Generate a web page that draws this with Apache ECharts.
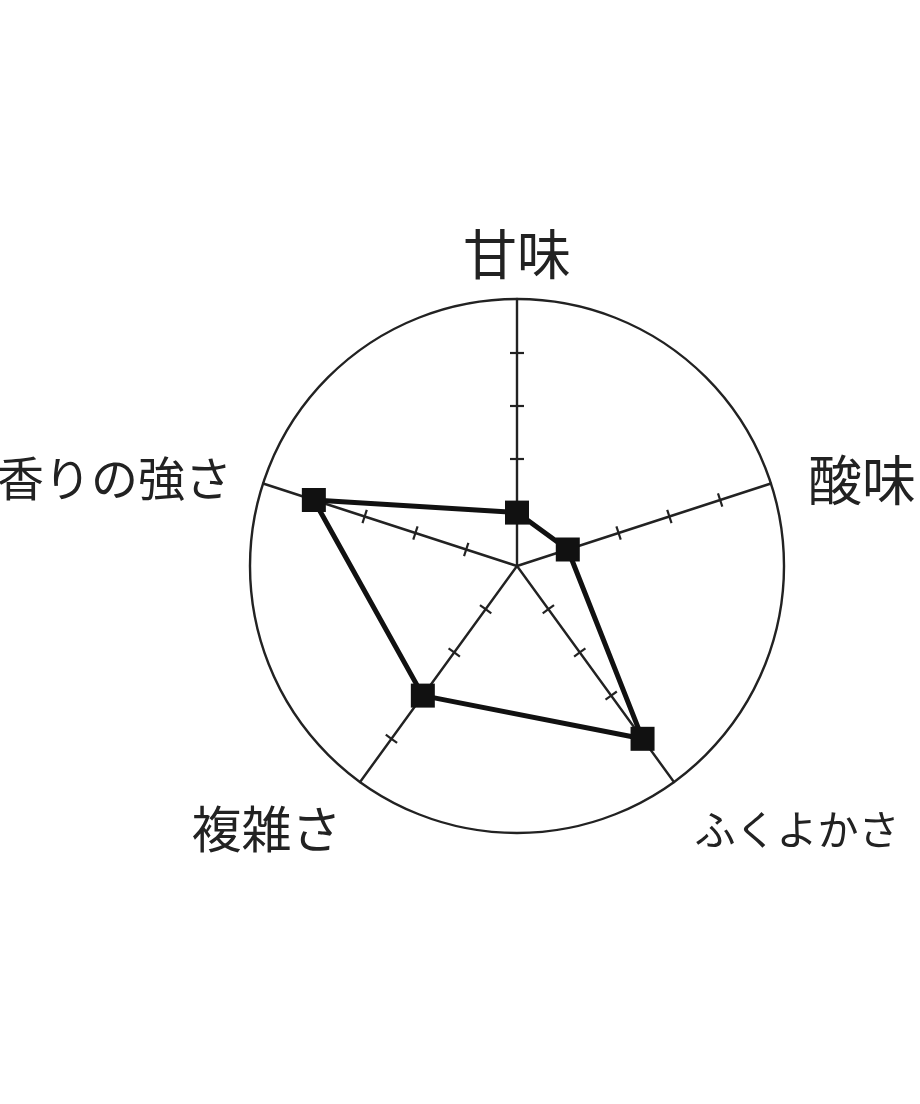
<!DOCTYPE html>
<html><head><meta charset="utf-8">
<script src="https://cdn.jsdelivr.net/npm/echarts@6/dist/echarts.min.js"></script>
<style>html,body{margin:0;padding:0;background:#fff}#c{width:920px;height:1104px}</style>
</head><body><div id="c"></div>
<script>
// indicators in drawing order (ECharts radar runs counterclockwise from top)
const indicatorNames = ['甘味', '香りの強さ', '複雑さ', 'ふくよかさ', '酸味'];
const values = [1, 4, 3, 4, 1];
const maxValue = 5;
const splits = 5;
const tickValues = [1, 2, 3, 4];

// label styles (size / offset per label)
const labelStyles = {
  a: { fontSize: 54, padding: [0, 0, 0, 0] },
  b: { fontSize: 47, padding: [0, 14, 0, 0] },
  c: { fontSize: 50, padding: [64, 8, 0, 0] },
  d: { fontSize: 41, padding: [66, 0, 0, 10] },
  e: { fontSize: 54, padding: [6, 0, 0, 20] }
};
const styleKeys = ['a', 'b', 'c', 'd', 'e'];
const rich = {};
Object.keys(labelStyles).forEach(k => {
  rich[k] = Object.assign({ color: '#222', fontFamily: 'Noto Sans CJK JP' }, labelStyles[k]);
});

const chart = echarts.init(document.getElementById('c'));
const indicators = indicatorNames.map(n => ({ name: n, max: maxValue, min: 0 }));
const hidden = 'rgba(0,0,0,0)';
const baseRadar = {
  center: [517, 566],
  radius: 267,
  shape: 'circle',
  startAngle: 90,
  splitNumber: splits,
  indicator: indicators,
  axisName: {
    color: '#222', fontSize: 50, fontFamily: 'Noto Sans CJK JP',
    formatter: function (name) {
      const i = indicatorNames.indexOf(name);
      return '{' + styleKeys[i] + '|' + name + '}';
    },
    rich: rich
  },
  nameGap: 18,
  axisLine: { show: true, lineStyle: { color: '#222', width: 2.4 } },
  axisTick: { show: false },
  splitLine: { show: true, lineStyle: { color: [hidden, hidden, hidden, hidden, hidden, '#222'], width: 2.4 } },
  splitArea: { show: false }
};
function tickRadar(len) {
  return Object.assign({}, baseRadar, {
    axisName: { show: false },
    axisLine: { show: true, lineStyle: { color: hidden } },
    axisTick: { show: true, length: len, customValues: tickValues, lineStyle: { color: '#222', width: 2.2 } },
    splitLine: { show: false }
  });
}
chart.setOption({
  animation: false,
  radar: [baseRadar, tickRadar(7), tickRadar(-7)],
  series: [{
    type: 'radar',
    radarIndex: 0,
    symbol: 'rect',
    symbolSize: 24,
    itemStyle: { color: '#111' },
    lineStyle: { color: '#111', width: 5 },
    data: [{ value: values }]
  }]
});
</script></body></html>
